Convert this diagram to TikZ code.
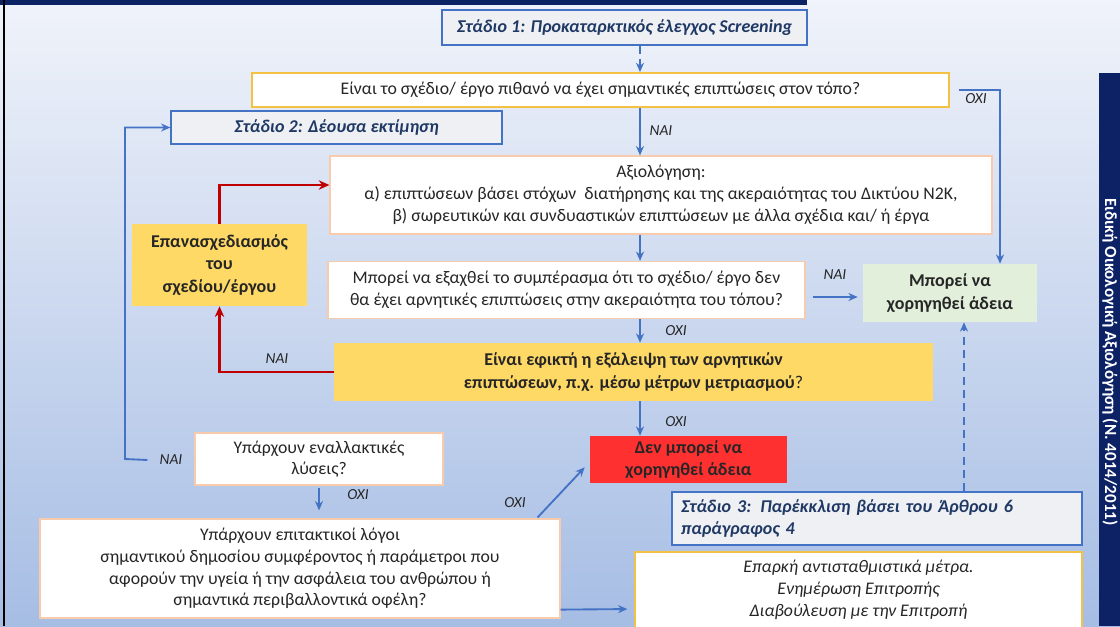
\documentclass[tikz,border=0pt]{standalone}
\usepackage{fontspec}
\setmainfont{Carlito}
\usetikzlibrary{arrows.meta, calc}

\definecolor{navy}{HTML}{0C2265}
\definecolor{stagetext}{HTML}{1F3864}
\definecolor{stagefill}{HTML}{EEF0F4}
\definecolor{lineblue}{HTML}{4472C4}
\definecolor{linered}{HTML}{C00000}
\definecolor{gold}{HTML}{F4C242}
\definecolor{peach}{HTML}{F8CBAD}
\definecolor{yellowfill}{HTML}{FFD966}
\definecolor{greenfill}{HTML}{E2EFDA}
\definecolor{redfill}{HTML}{FF3030}
\definecolor{txtgray}{HTML}{262626}
\definecolor{bgtop}{HTML}{F0F3FA}
\definecolor{bgbottom}{HTML}{A6BDE4}

\begin{document}
\begin{tikzpicture}[
        x=0.75pt, y=-0.75pt,
        every node/.style={align=center, text=txtgray, inner sep=2pt, font=\fontsize{13.3}{16.3}\selectfont},
        stagebox/.style={draw=lineblue, fill=stagefill, line width=0.9pt, text=stagetext, font=\fontsize{13.5}{17}\selectfont\bfseries\itshape},
        plainbox/.style={draw=peach, fill=white, line width=0.9pt},
        goldbox/.style={draw=gold, fill=white, line width=1.4pt},
        boldbox/.style={font=\fontsize{13.5}{17}\selectfont\bfseries},
        answer/.style={inner sep=0pt, font=\fontsize{11.5}{14}\selectfont\itshape},
        arrow/.style={-{Stealth[length=7pt, width=6pt]}, line width=1.4pt, draw=lineblue},
        dasharrow/.style={arrow, line width=1.2pt, dash pattern=on 6pt off 4pt},
        redarrow/.style={-{Stealth[length=8pt, width=7pt]}, line width=2.2pt, draw=linered}
    ]
    \useasboundingbox (0,0) rectangle (1120,626);
    \clip (0,0) rectangle (1120,626);

    % Background and frame
    \shade[top color=bgtop, bottom color=bgbottom] (0,0) rectangle (1120,626);
    \fill[navy] (0,0) rectangle (807,4.5);
    \draw[black, line width=1.5pt] (3.5,0) -- (3.5,626);
    \fill[navy] (1099,73) rectangle (1120,626);
    \node[rotate=-90, text=white, font=\fontsize{12.8}{15}\selectfont\bfseries] (sidetitle) at (1110,362) {Ειδική Οικολογική Αξιολόγηση (Ν. 4014/2011)};

    % Nodes
    \node[stagebox, minimum width=273.75pt, minimum height=26.25pt] (st1) at (624.5,27.5) {Στάδιο 1: Προκαταρκτικός έλεγχος Screening};
    \node[goldbox, minimum width=522.75pt, minimum height=25.5pt] (q1) at (600.5,90) {Είναι το σχέδιο/ έργο πιθανό να έχει σημαντικές επιπτώσεις στον τόπο?};
    \node[stagebox, minimum width=248.25pt, minimum height=24.75pt] (st2) at (336.5,127.5) {Στάδιο 2: Δέουσα εκτίμηση};
    \node[plainbox, minimum width=496.5pt, minimum height=58.5pt] (assess) at (661,195) {Αξιολόγηση:\\α) επιπτώσεων βάσει στόχων\ \ διατήρησης και της ακεραιότητας του Δικτύου Ν2Κ,\\β) σωρευτικών και συνδυαστικών επιπτώσεων με άλλα σχέδια και/ ή έργα};
    \node[boldbox, fill=yellowfill, minimum width=131.25pt, minimum height=61.5pt] (redesign) at (219.5,265) {Επανασχεδιασμός\\του\\σχεδίου/έργου};
    \node[plainbox, minimum width=357.75pt, minimum height=42.75pt] (q2) at (566.5,290) {Μπορεί να εξαχθεί το συμπέρασμα ότι το σχέδιο/ έργο δεν\\θα έχει αρνητικές επιπτώσεις στην ακεραιότητα του τόπου?};
    \node[boldbox, fill=greenfill, minimum width=130.5pt, minimum height=43.5pt] (green) at (950,293) {Μπορεί να\\χορηγηθεί άδεια};
    \node[boldbox, fill=yellowfill, minimum width=449.25pt, minimum height=43.5pt] (q3) at (633.5,372) {Είναι εφικτή η εξάλειψη των αρνητικών\\επιπτώσεων, π.χ. μέσω μέτρων μετριασμού{\mdseries ?}};
    \node[plainbox, minimum width=186pt, minimum height=39pt] (q4) at (319,459) {Υπάρχουν εναλλακτικές\\λύσεις?};
    \node[boldbox, fill=redfill, minimum width=147.75pt, minimum height=35.25pt] (red) at (688.5,459.5) {Δεν μπορεί να\\χορηγηθεί άδεια};
    \node[plainbox, minimum width=390pt, minimum height=74.25pt] (q5) at (300,568.5) {Υπάρχουν επιτακτικοί λόγοι\\σημαντικού δημοσίου συμφέροντος ή παράμετροι που\\αφορούν την υγεία ή την ασφάλεια του ανθρώπου ή\\σημαντικά περιβαλλοντικά οφέλη?};
    \node[stagebox, align=left, text width=294pt, inner xsep=6.75pt, minimum height=39.75pt] (st3) at (877,518.5) {Στάδιο 3: Παρέκκλιση βάσει του Άρθρου 6\\παράγραφος 4};
    \node[goldbox, font=\fontsize{13.3}{16.3}\selectfont\itshape, minimum width=335.25pt, minimum height=57pt] (comp) at (858.5,590) {Επαρκή αντισταθμιστικά μέτρα.\\Ενημέρωση Επιτροπής\\Διαβούλευση με την Επιτροπή};

    % Answer labels
    \node[answer] (oxiA) at (976,99) {ΟΧΙ};
    \node[answer] (naiA) at (661,131) {ΝΑΙ};
    \node[answer] (naiB) at (835,275) {ΝΑΙ};
    \node[answer] (oxiB) at (676,331) {ΟΧΙ};
    \node[answer] (naiC) at (277,359) {ΝΑΙ};
    \node[answer] (oxiC) at (676,422) {ΟΧΙ};
    \node[answer] (naiD) at (171,460) {ΝΑΙ};
    \node[answer] (oxiD) at (358,495) {ΟΧΙ};
    \node[answer] (oxiE) at (515,503) {ΟΧΙ};

    % Main column
    \coordinate (spine) at (640,0);
    \coordinate (oxiturn) at (1000,90);
    \coordinate (naiturn) at (125,459);
    \coordinate (permitline) at (964,0);
    \draw[dasharrow] (st1.south -| spine) -- (q1.north -| spine);
    \draw[arrow] (q1.south -| spine) -- (assess.north -| spine);
    \draw[arrow] (assess.south -| spine) -- (q2.north -| spine);
    \draw[arrow] (q2.south -| spine) -- (q3.north -| spine);
    \draw[arrow] (q3.south -| spine) -- (red.north -| spine);

    % Branches to the permit
    \draw[arrow] ($(q1.east)+(9,0)$) -- (oxiturn) -- (oxiturn |- green.north);
    \draw[arrow] ($(q2.east)+(7,7)$) -- ($(green.west)+(-5,4)$);
    \draw[dasharrow] (st3.north -| permitline) -- (green.south -| permitline);

    % Redesign loop
    \draw[redarrow] (q3.west) -| (redesign.south);
    \draw[redarrow] (redesign.north) |- ($(assess.west)+(0,-10)$);

    % Alternatives and derogation
    \draw[arrow] ($(naiD.west)+(-12,0)$) -- (naiturn) |- (st2.west);
    \draw[arrow, shorten <=2pt, shorten >=6pt] (q4.south) -- (q4.south |- q5.north);
    \draw[arrow] ($(q5.north east)+(-23,-1)$) -- ($(red.south west)+(-5,-16)$);
    \draw[arrow, shorten >=5pt] ($(q5.south east)+(0,-9)$) -- ($(comp.west)+(0,19)$);

\end{tikzpicture}
\end{document}
